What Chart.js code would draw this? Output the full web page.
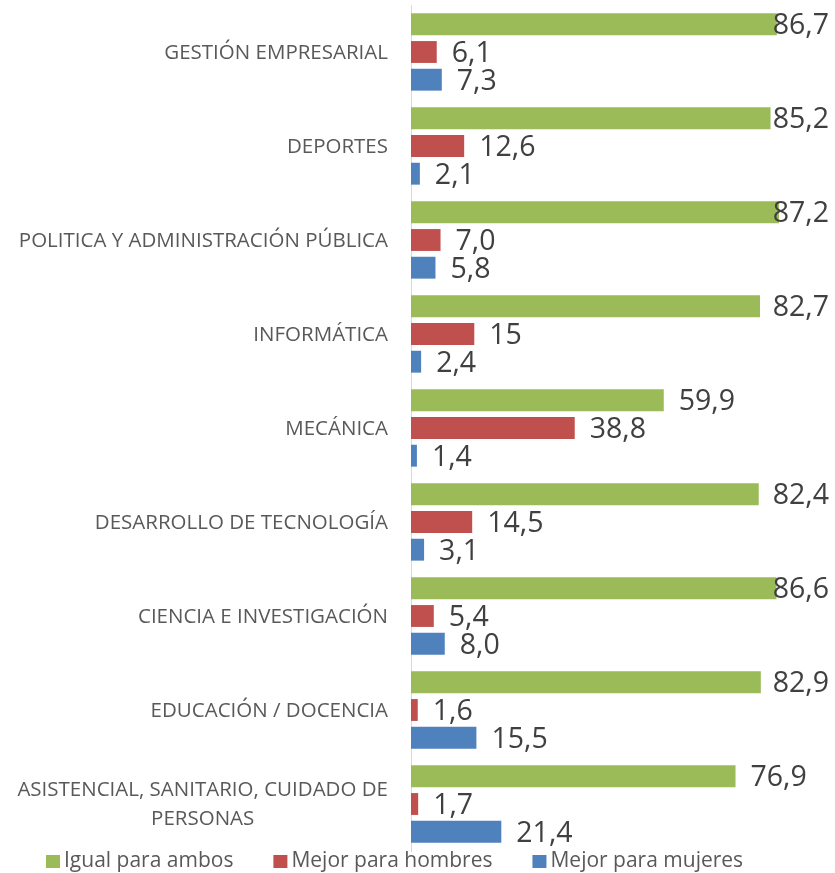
<!DOCTYPE html>
<html>
<head>
<meta charset="utf-8">
<script src="https://cdn.jsdelivr.net/npm/chart.js@4.4.1/dist/chart.umd.min.js"></script>
<style>
  html, body { margin: 0; padding: 0; background: #fff; }
  #wrap { width: 835px; height: 873px; }
</style>
</head>
<body>
<div id="wrap"><canvas id="chart" width="835" height="873"></canvas></div>
<script>
// ============================================
// DATA
// ============================================

const categories = [
    'GESTIÓN EMPRESARIAL',
    'DEPORTES',
    'POLITICA Y ADMINISTRACIÓN PÚBLICA',
    'INFORMÁTICA',
    'MECÁNICA',
    'DESARROLLO DE TECNOLOGÍA',
    'CIENCIA E INVESTIGACIÓN',
    'EDUCACIÓN / DOCENCIA',
    ['ASISTENCIAL, SANITARIO, CUIDADO DE', 'PERSONAS']
];

const igualParaAmbos = [86.7, 85.2, 87.2, 82.7, 59.9, 82.4, 86.6, 82.9, 76.9];
const mejorHombres = [6.1, 12.6, 7.0, 15, 38.8, 14.5, 5.4, 1.6, 1.7];
const mejorMujeres = [7.3, 2.1, 5.8, 2.4, 1.4, 3.1, 8.0, 15.5, 21.4];

const seriesNames = ['Igual para ambos', 'Mejor para hombres', 'Mejor para mujeres'];
const seriesColors = ['#9BBB59', '#C0504D', '#4F81BD'];

const FONT = "'Open Sans', 'Liberation Sans', sans-serif";
const CAT_FONT_SIZE = 20.5;
const VALUE_FONT_SIZE = 28.5;
const LEGEND_FONT_SIZE = 21;

// 7,0 keeps its decimal, 15 does not (as in the source sheet)
function formatValue(v) {
    if (Number.isInteger(v) && v >= 10) return String(v);
    return v.toFixed(1).replace('.', ',');
}

// ============================================
// PLUGINS
// ============================================

const categoryLabels = {
    id: 'categoryLabels',
    afterDraw(chart) {
        const ctx = chart.ctx;
        const yScale = chart.scales.y;
        const right = chart.chartArea.left - 23;
        const lineHeight = 29;
        ctx.save();
        ctx.font = `${CAT_FONT_SIZE}px ${FONT}`;
        ctx.fillStyle = '#595959';
        ctx.textAlign = 'center';
        ctx.textBaseline = 'middle';
        categories.forEach((cat, i) => {
            const lines = Array.isArray(cat) ? cat : [cat];
            const blockW = Math.max(...lines.map(l => ctx.measureText(l).width));
            const cx = right - blockW / 2;
            const yc = yScale.getPixelForTick(i);
            const y0 = yc - (lines.length - 1) * lineHeight / 2;
            lines.forEach((line, j) => ctx.fillText(line, cx, y0 + j * lineHeight + 1));
        });
        ctx.restore();
    }
};

const valueLabels = {
    id: 'valueLabels',
    afterDatasetsDraw(chart) {
        const ctx = chart.ctx;
        const maxRight = 829;
        ctx.save();
        ctx.font = `${VALUE_FONT_SIZE}px ${FONT}`;
        ctx.fillStyle = '#404040';
        ctx.textAlign = 'left';
        ctx.textBaseline = 'middle';
        chart.data.datasets.forEach((ds, di) => {
            const meta = chart.getDatasetMeta(di);
            meta.data.forEach((bar, i) => {
                const text = formatValue(ds.data[i]);
                const w = ctx.measureText(text).width;
                const x = Math.min(bar.x + 15, maxRight - w);
                ctx.fillText(text, x, bar.y + 2);
            });
        });
        ctx.restore();
    }
};

const bottomLegend = {
    id: 'bottomLegend',
    afterDraw(chart) {
        const ctx = chart.ctx;
        const yc = 861.5;
        let x = 46;
        ctx.save();
        ctx.font = `${LEGEND_FONT_SIZE}px ${FONT}`;
        ctx.textAlign = 'left';
        ctx.textBaseline = 'middle';
        chart.data.datasets.forEach(ds => {
            ctx.fillStyle = ds.backgroundColor;
            ctx.fillRect(x, yc - 6.5, 14, 13);
            ctx.fillStyle = '#595959';
            ctx.fillText(ds.label, x + 18, yc);
            x += 18 + ctx.measureText(ds.label).width + 40;
        });
        ctx.restore();
    }
};

// ============================================
// CHART
// ============================================

const seriesData = [igualParaAmbos, mejorHombres, mejorMujeres];

new Chart(document.getElementById('chart'), {
    type: 'bar',
    data: {
        labels: categories,
        datasets: seriesData.map((data, i) => ({
            label: seriesNames[i],
            data: data,
            backgroundColor: seriesColors[i],
            borderWidth: 0,
            categoryPercentage: 0.884,
            barPercentage: 0.79
        }))
    },
    options: {
        indexAxis: 'y',
        responsive: false,
        animation: false,
        layout: { padding: { top: 5, right: 2, bottom: 22, left: 0 } },
        plugins: {
            legend: { display: false },
            tooltip: { enabled: false }
        },
        scales: {
            x: { display: false, min: 0, max: 100 },
            y: {
                grid: { display: false, drawTicks: false },
                border: { display: true, color: '#D9D9D9', width: 1 },
                ticks: { display: false },
                afterFit: scale => { scale.width = 411; }
            }
        }
    },
    plugins: [categoryLabels, valueLabels, bottomLegend]
});
</script>
</body>
</html>
